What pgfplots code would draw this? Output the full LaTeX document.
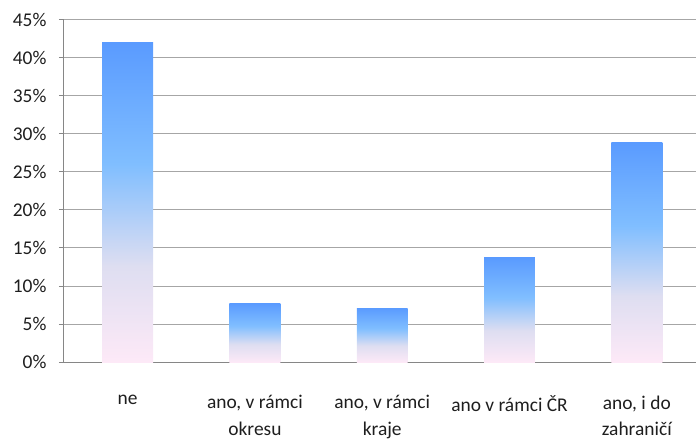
\documentclass[border=0pt]{standalone}
\usepackage{pgfplots}
\pgfplotsset{compat=1.18}
\usepackage{fontspec}
\setmainfont{Carlito}

\definecolor{gridgray}{RGB}{166,166,166}
\definecolor{axgray}{RGB}{134,134,134}
\definecolor{txt}{RGB}{30,30,30}
\definecolor{barTop}{RGB}{90,155,255}
\definecolor{barMid}{RGB}{128,190,255}
\definecolor{barLav}{RGB}{222,222,241}
\definecolor{barBot}{RGB}{253,233,247}
\pgfdeclareverticalshading{barshade}{100bp}{color(0bp)=(barBot); color(25bp)=(barBot); color(40bp)=(barLav); color(56bp)=(barMid); color(75bp)=(barTop); color(100bp)=(barTop)}

\begin{document}
\begin{tikzpicture}
\useasboundingbox (-64bp,-77bp) rectangle (632bp,362bp);
\begin{axis}[
    scale only axis,
    width=632bp, height=342bp,
    xmin=-0.5, xmax=4.465,
    ymin=0, ymax=45,
    ytick={0,5,...,45},
    yticklabel={\pgfmathprintnumber{\tick}\%},
    /pgf/number format/assume math mode=true,
    axis x line*=bottom,
    axis y line*=left,
    axis line style={axgray, line width=1bp, -},
    ymajorgrids,
    grid style={gridgray, line width=1bp},
    tick align=outside,
    major tick length=5bp,
    tick style={axgray, line width=1bp},
    xtick={0,...,4},
    x tick style={draw=none},
    xticklabels={ne, {ano, v rámci\\okresu}, {ano, v rámci\\kraje}, {ano v rámci ČR}, {ano, i do\\zahraničí}},
    x tick label style={align=center, anchor=north, yshift=-25bp},
    y tick label style={xshift=-9bp},
    extra x ticks={-0.5,0.5,1.5,2.5,3.5},
    extra x tick labels={},
    extra x tick style={major tick length=7bp, tick style={axgray, line width=1bp}},
    ticklabel style={font=\fontsize{19.5}{26.5}\selectfont, text=txt},
    bar width=0.4,
    no markers,
    every axis plot/.append style={ybar, bar shift=0pt, draw=none, shading=barshade},
]
\addplot coordinates {(0, 42.0)};
\addplot coordinates {(1, 7.7)};
\addplot coordinates {(2, 7.1)};
\addplot coordinates {(3, 13.7)};
\addplot coordinates {(4, 28.9)};
\end{axis}
\end{tikzpicture}
\end{document}
